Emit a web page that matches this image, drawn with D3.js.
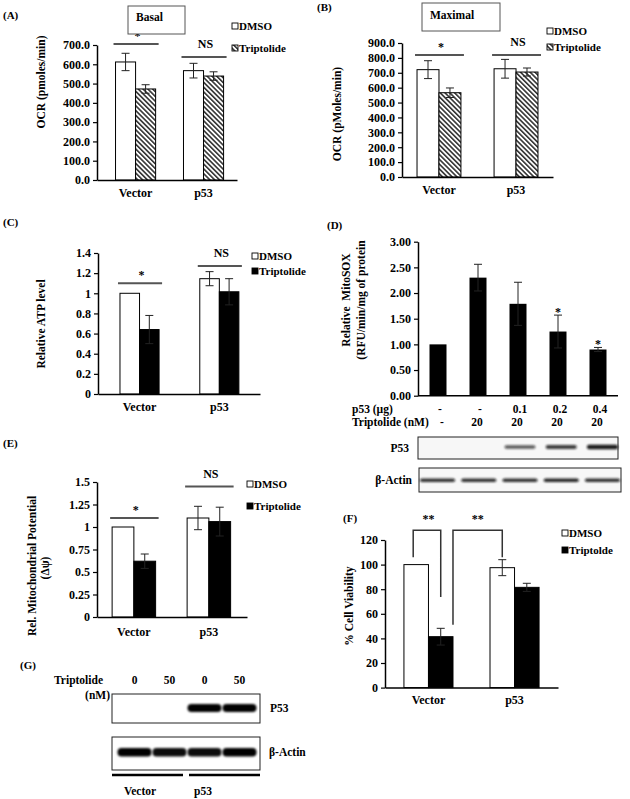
<!DOCTYPE html>
<html><head><meta charset="utf-8">
<script src="https://cdn.jsdelivr.net/npm/d3@7"></script>
<style>
body{margin:0;background:#fff}
text{font-family:"Liberation Serif","Times New Roman",serif;font-weight:bold;fill:#000}
</style>
</head><body><svg id="c" width="630" height="799" xmlns="http://www.w3.org/2000/svg"></svg>
<script>
// ---------- DATA ----------
const groups = ["Vector", "p53"];
const seriesNames = ["DMSO", "Triptolide"];

// (A) Basal OCR
const basalDMSO = [612, 567], basalDMSOErr = [45, 38];
const basalTrip = [472, 539], basalTripErr = [22, 22];
const basalTicks = [0, 100, 200, 300, 400, 500, 600, 700];
const basalSig = [705, 638], basalSigLabel = ["*", "NS"];

// (B) Maximal OCR
const maxDMSO = [721, 727], maxDMSOErr = [60, 63];
const maxTrip = [566, 705], maxTripErr = [32, 27];
const maxTicks = [0, 100, 200, 300, 400, 500, 600, 700, 800, 900];
const maxSig = [819, 819], maxSigLabel = ["*", "NS"];

// (C) Relative ATP level
const atpDMSO = [1.0, 1.145], atpDMSOErr = [0, 0.07];
const atpTrip = [0.64, 1.015], atpTripErr = [0.14, 0.13];
const atpTicks = [0, 0.2, 0.4, 0.6, 0.8, 1, 1.2, 1.4];
const atpSig = [1.10, 1.27], atpSigLabel = ["*", "NS"];

// (D) Relative MitoSOX
const soxLanes = ["L1", "L2", "L3", "L4", "L5"];
const soxVals = [1.00, 2.30, 1.79, 1.25, 0.90];
const soxErr = [0, 0.26, 0.42, 0.32, 0.04];
const soxStar = ["", "", "", "*", "*"];
const soxTicks = [0, 0.5, 1, 1.5, 2, 2.5, 3];
const soxP53Row = ["-", "-", "0.1", "0.2", "0.4"];
const soxTripRow = ["-", "20", "20", "20", "20"];
const soxP53Band = [0, 0, 0.55, 0.75, 1.0];
const soxActinBand = [0.85, 0.85, 0.85, 0.9, 0.85];

// (E) Rel. Mitochondrial Potential
const mmpDMSO = [1.0, 1.10], mmpDMSOErr = [0, 0.13];
const mmpTrip = [0.62, 1.06], mmpTripErr = [0.08, 0.16];
const mmpTicks = [0, 0.25, 0.5, 0.75, 1, 1.25, 1.5];
const mmpSig = [1.10, 1.45], mmpSigLabel = ["*", "NS"];

// (F) % Cell Viability
const viaDMSO = [100, 97.5], viaDMSOErr = [0, 6.5];
const viaTrip = [41.4, 81.5], viaTripErr = [6.8, 3.3];
const viaTicks = [0, 20, 40, 60, 80, 100, 120];

// (G) Western blot
const gLanes = ["0", "50", "0 ", "50 "];
const gP53Band = [0, 0, 1, 1];
const gActinBand = [1, 0.95, 0.95, 1];

// ---------- DRAW ----------
const svg = d3.select("#c");
const FONT = '"Liberation Serif","Times New Roman",serif';
const defs = svg.append("defs");
const pat = defs.append("pattern").attr("id", "hatch").attr("patternUnits", "userSpaceOnUse")
  .attr("width", 3.4).attr("height", 3.4).attr("patternTransform", "rotate(-45)");
pat.append("rect").attr("width", 3.4).attr("height", 3.4).attr("fill", "#fff");
pat.append("rect").attr("width", 1.6).attr("height", 3.4).attr("fill", "#333");
const blur = defs.append("filter").attr("id", "blur").attr("x", "-30%").attr("y", "-100%").attr("width", "160%").attr("height", "300%");
blur.append("feGaussianBlur").attr("stdDeviation", 0.8);

function txt(x, y, s, size, anchor, rot) {
  const t = svg.append("text").attr("x", x).attr("y", y).attr("font-size", size)
    .attr("text-anchor", anchor || "start").text(s);
  if (rot) t.attr("transform", `rotate(-90,${x},${y})`);
  return t;
}

function legend(x, y1, y2, tripFill, tripName) {
  [[y1, "#fff", seriesNames[0]], [y2, tripFill, tripName || seriesNames[1]]].forEach(([yy, f, name]) => {
    svg.append("rect").attr("x", x).attr("y", yy - 3).attr("width", 6).attr("height", 6)
      .attr("fill", f).attr("stroke", "#000").attr("stroke-width", 0.9);
    txt(x + 7, yy + 4, name, 11);
  });
}

function styleAxis(a) {
  a.attr("font-family", FONT).attr("font-size", 12).attr("font-weight", "bold");
  a.select(".domain").attr("stroke", "#000").attr("stroke-width", 1.5);
  a.selectAll(".tick line").attr("stroke", "#000").attr("stroke-width", 1.2);
  a.selectAll(".tick text").attr("fill", "#000");
}

function errBar(g, cx, yLo, yHi) {
  const p = d3.path();
  p.moveTo(cx, yLo); p.lineTo(cx, yHi);
  p.moveTo(cx - 4, yHi); p.lineTo(cx + 4, yHi);
  p.moveTo(cx - 4, yLo); p.lineTo(cx + 4, yLo);
  g.append("path").attr("d", p.toString()).attr("stroke", "#222").attr("stroke-width", 1).attr("fill", "none");
}

function panel(c) {
  const g = svg.append("g");
  const y = d3.scaleLinear().domain([0, c.max]).range([c.yb, c.yt]);
  const x = d3.scaleBand().domain(groups).range([c.x0, c.x1]).paddingInner(c.pi).paddingOuter(c.po).align(c.al);
  const xs = d3.scaleBand().domain([0, 1]).range([0, x.bandwidth()]);
  const fills = ["#fff", c.tripFill];
  c.series.forEach((s, si) => {
    g.selectAll(null).data(groups).join("rect")
      .attr("x", d => x(d) + xs(si)).attr("y", (d, i) => y(s.v[i]))
      .attr("width", xs.bandwidth()).attr("height", (d, i) => y(0) - y(s.v[i]))
      .attr("fill", fills[si]).attr("stroke", "#000").attr("stroke-width", 1);
  });
  c.series.forEach((s, si) => {
    groups.forEach((gr, i) => {
      if (!s.e[i]) return;
      const cx = x(gr) + xs(si) + xs.bandwidth() / 2;
      errBar(g, cx, y(s.v[i] - s.e[i]), y(s.v[i] + s.e[i]));
    });
  });
  const ya = g.append("g").attr("transform", `translate(${c.x0},0)`)
    .call(d3.axisLeft(y).tickValues(c.ticks).tickFormat(c.fmt).tickSize(4).tickPadding(3).tickSizeOuter(0));
  styleAxis(ya);
  const xa = g.append("g").attr("transform", `translate(0,${c.yb})`)
    .call(d3.axisBottom(x).tickSize(0).tickPadding(c.xpad).tickSizeOuter(0));
  styleAxis(xa);
  if (c.sig) {
    groups.forEach((gr, i) => {
      const yy = y(c.sig[i]);
      g.append("line").attr("x1", x(gr) - 2).attr("x2", x(gr) + x.bandwidth() + 3)
        .attr("y1", yy).attr("y2", yy).attr("stroke", "#555").attr("stroke-width", 2);
      g.append("text").attr("x", x(gr) + x.bandwidth() / 2 + 2).attr("y", yy - (c.sigLabel[i] === "*" ? 4 : 9))
        .attr("text-anchor", "middle").attr("font-size", 12).text(c.sigLabel[i]);
    });
  }
  return { x, xs, y, g };
}

// (A)
txt(3, 19, "(A)", 11);
panel({
  x0: 97, x1: 237, yb: 180, yt: 45, max: 700, pi: 0.41, po: 0.235, al: 0.58,
  ticks: basalTicks, fmt: d3.format(".1f"), xpad: 8, tripFill: "url(#hatch)",
  series: [{ v: basalDMSO, e: basalDMSOErr }, { v: basalTrip, e: basalTripErr }],
  sig: basalSig, sigLabel: basalSigLabel
});
svg.append("rect").attr("x", 128).attr("y", 6).attr("width", 57).attr("height", 28)
  .attr("fill", "#fff").attr("stroke", "#555").attr("stroke-width", 1);
txt(136, 21, "Basal", 11.5);
legend(232, 26, 48, "url(#hatch)");
txt(45, 82, "OCR (pmoles/min)", 11.5, "middle", true);

// (B)
txt(317, 11, "(B)", 11);
panel({
  x0: 402, x1: 553, yb: 177, yt: 43, max: 900, pi: 0.43, po: 0.195, al: 0.5,
  ticks: maxTicks, fmt: d3.format(".1f"), xpad: 8, tripFill: "url(#hatch)",
  series: [{ v: maxDMSO, e: maxDMSOErr }, { v: maxTrip, e: maxTripErr }],
  sig: maxSig, sigLabel: maxSigLabel
});
svg.append("rect").attr("x", 422).attr("y", 3).attr("width", 78).attr("height", 28)
  .attr("fill", "#fff").attr("stroke", "#555").attr("stroke-width", 1);
txt(430, 19, "Maximal", 11.5);
legend(547, 31, 47, "url(#hatch)");
txt(341, 114, "OCR (pMoles/min)", 11.5, "middle", true);

// (C)
txt(3, 226, "(C)", 11);
panel({
  x0: 98, x1: 260, yb: 394, yt: 253, max: 1.4, pi: 0.51, po: 0.27, al: 0.51,
  ticks: atpTicks, fmt: d3.format(""), xpad: 8, tripFill: "#000",
  series: [{ v: atpDMSO, e: atpDMSOErr }, { v: atpTrip, e: atpTripErr }],
  sig: atpSig, sigLabel: atpSigLabel
});
legend(252, 256, 271, "#000");
txt(45, 324, "Relative ATP level", 11.5, "middle", true);

// (D)
txt(327, 229, "(D)", 11);
{
  const y = d3.scaleLinear().domain([0, 3]).range([395.7, 241.7]);
  const x = d3.scaleBand().domain(soxLanes).range([418, 618]).paddingInner(0.575).paddingOuter(0.2875);
  const g = svg.append("g");
  g.selectAll(null).data(soxVals).join("rect")
    .attr("x", (d, i) => x(soxLanes[i])).attr("y", d => y(d)).attr("width", x.bandwidth())
    .attr("height", d => y(0) - y(d)).attr("fill", "#000");
  soxVals.forEach((v, i) => {
    if (!soxErr[i]) return;
    errBar(g, x(soxLanes[i]) + x.bandwidth() / 2, y(v - soxErr[i]), y(v + soxErr[i]));
    if (soxStar[i]) g.append("text").attr("x", x(soxLanes[i]) + x.bandwidth() / 2).attr("y", y(v + soxErr[i]) + 1)
      .attr("text-anchor", "middle").attr("font-size", 12).text(soxStar[i]);
  });
  const ya = g.append("g").attr("transform", "translate(418,0)")
    .call(d3.axisLeft(y).tickValues(soxTicks).tickFormat(d3.format(".2f")).tickSize(4).tickPadding(3).tickSizeOuter(0));
  styleAxis(ya);
  g.append("line").attr("x1", 418).attr("x2", 618).attr("y1", 395.7).attr("y2", 395.7).attr("stroke", "#000").attr("stroke-width", 1.5);
  txt(352, 413, "p53 (µg)", 11.5);
  txt(352, 426, "Triptolide (nM)", 11.5);
  soxP53Row.forEach((s, i) => g.append("text").attr("x", x(soxLanes[i]) + x.bandwidth() / 2 + 2).attr("y", 413).attr("text-anchor", "middle").attr("font-size", 11.5).text(s));
  soxTripRow.forEach((s, i) => g.append("text").attr("x", x(soxLanes[i]) + x.bandwidth() / 2 + (i === 0 ? 4 : -1)).attr("y", 426).attr("text-anchor", "middle").attr("font-size", 11.5).text(s));
  txt(350, 300, "Relative  MitoSOX", 11.5, "middle", true).attr("xml:space", "preserve");
  txt(365, 300, "(RFU/min/mg of protein", 11.5, "middle", true);
  // blot
  const lane = d3.scaleBand().domain(soxLanes).range([420, 620]).paddingInner(0.15);
  g.append("rect").attr("x", 418).attr("y", 437).attr("width", 200).attr("height", 22).attr("fill", "#f7f7f7").attr("stroke", "#222").attr("stroke-width", 1);
  g.append("rect").attr("x", 419).attr("y", 468).attr("width", 202).attr("height", 24).attr("fill", "#f7f7f7").attr("stroke", "#222").attr("stroke-width", 1);
  soxP53Band.forEach((a, i) => {
    if (!a) return;
    g.append("rect").attr("x", lane(soxLanes[i]) + 2).attr("y", 446 - a * 1.2).attr("width", lane.bandwidth() - 4)
      .attr("height", 2 + a * 2.4).attr("rx", 2).attr("fill", "#111").attr("opacity", 0.35 + 0.6 * a).attr("filter", "url(#blur)");
  });
  soxActinBand.forEach((a, i) => {
    g.append("rect").attr("x", lane(soxLanes[i])).attr("y", 478.5).attr("width", lane.bandwidth())
      .attr("height", 3.5).attr("rx", 2).attr("fill", "#111").attr("opacity", a).attr("filter", "url(#blur)");
  });
  txt(409, 452, "P53", 11.5, "end");
  txt(412, 484, "β-Actin", 11.5, "end");
}

// (E)
txt(3, 447, "(E)", 11);
panel({
  x0: 97, x1: 247, yb: 617, yt: 482, max: 1.5, pi: 0.42, po: 0.21, al: 0.48,
  ticks: mmpTicks, fmt: d3.format(""), xpad: 10, tripFill: "#000",
  series: [{ v: mmpDMSO, e: mmpDMSOErr }, { v: mmpTrip, e: mmpTripErr }],
  sig: mmpSig, sigLabel: mmpSigLabel
});
legend(247, 484, 506, "#000");
txt(36, 566, "Rel. Mitochondrial Potential", 11.5, "middle", true);
txt(49, 568, "(Δψ)", 11.5, "middle", true);

// (F)
txt(343, 522, "(F)", 11);
{
  const p = panel({
    x0: 385, x1: 558, yb: 687.6, yt: 540, max: 120, pi: 0.43, po: 0.22, al: 0.5,
    ticks: viaTicks, fmt: d3.format(""), xpad: 8, tripFill: "#000",
    series: [{ v: viaDMSO, e: viaDMSOErr }, { v: viaTrip, e: viaTripErr }]
  });
  const { x, xs, y, g } = p;
  const c = (gi, si) => x(groups[gi]) + xs(si) + xs.bandwidth() / 2;
  const b1 = d3.path();
  b1.moveTo(c(0, 0) - 3, y(106)); b1.lineTo(c(0, 0) - 3, y(128)); b1.lineTo(c(0, 1), y(128)); b1.lineTo(c(0, 1), y(73.6));
  const b2 = d3.path();
  b2.moveTo(x(groups[0]) + x.bandwidth(), y(51)); b2.lineTo(x(groups[0]) + x.bandwidth(), y(128)); b2.lineTo(c(1, 0), y(128)); b2.lineTo(c(1, 0), y(106));
  [b1, b2].forEach(b => g.append("path").attr("d", b.toString()).attr("fill", "none").attr("stroke", "#333").attr("stroke-width", 1.5));
  g.append("text").attr("x", (c(0, 0) + c(0, 1)) / 2).attr("y", 523).attr("text-anchor", "middle").attr("font-size", 12).text("**");
  g.append("text").attr("x", (x(groups[0]) + x.bandwidth() + c(1, 0)) / 2).attr("y", 523).attr("text-anchor", "middle").attr("font-size", 12).text("**");
}
legend(562, 533, 550, "#000", "Triptolde");
txt(353, 606, "% Cell Viability", 11.5, "middle", true);

// (G)
txt(20, 669, "(G)", 11);
{
  const lane = d3.scaleBand().domain(gLanes).range([117, 257]);
  const g = svg.append("g");
  txt(103, 684, "Triptolide", 11.5, "end");
  txt(110, 699, "(nM)", 11.5, "end");
  gLanes.forEach(l => g.append("text").attr("x", lane(l) + lane.bandwidth() / 2).attr("y", 684).attr("text-anchor", "middle").attr("font-size", 11.5).text(l.trim()));
  g.append("rect").attr("x", 112).attr("y", 694).attr("width", 148).attr("height", 29).attr("fill", "#fff").attr("stroke", "#222").attr("stroke-width", 1);
  g.append("rect").attr("x", 112).attr("y", 737).attr("width", 148).attr("height", 33).attr("fill", "#fff").attr("stroke", "#222").attr("stroke-width", 1);
  gP53Band.forEach((a, i) => {
    if (!a) return;
    g.append("rect").attr("x", lane(gLanes[i]) + 0.5).attr("y", 704).attr("width", lane.bandwidth() - 1)
      .attr("height", 8).attr("rx", 4).attr("fill", "#000").attr("opacity", a).attr("filter", "url(#blur)");
  });
  gActinBand.forEach((a, i) => {
    g.append("rect").attr("x", lane(gLanes[i]) + 0.5).attr("y", 748).attr("width", lane.bandwidth() - 1)
      .attr("height", 8.5).attr("rx", 4).attr("fill", "#000").attr("opacity", a).attr("filter", "url(#blur)");
  });
  txt(270, 712, "P53", 11.5);
  txt(269, 756, "β-Actin", 11.5);
  g.append("line").attr("x1", 112).attr("x2", 183).attr("y1", 775).attr("y2", 775).attr("stroke", "#000").attr("stroke-width", 2.5);
  g.append("line").attr("x1", 189).attr("x2", 260).attr("y1", 775).attr("y2", 775).attr("stroke", "#000").attr("stroke-width", 2.5);
  txt(140, 795, "Vector", 11.5, "middle");
  txt(203, 795, "p53", 11.5, "middle");
}
</script>
</body></html>
